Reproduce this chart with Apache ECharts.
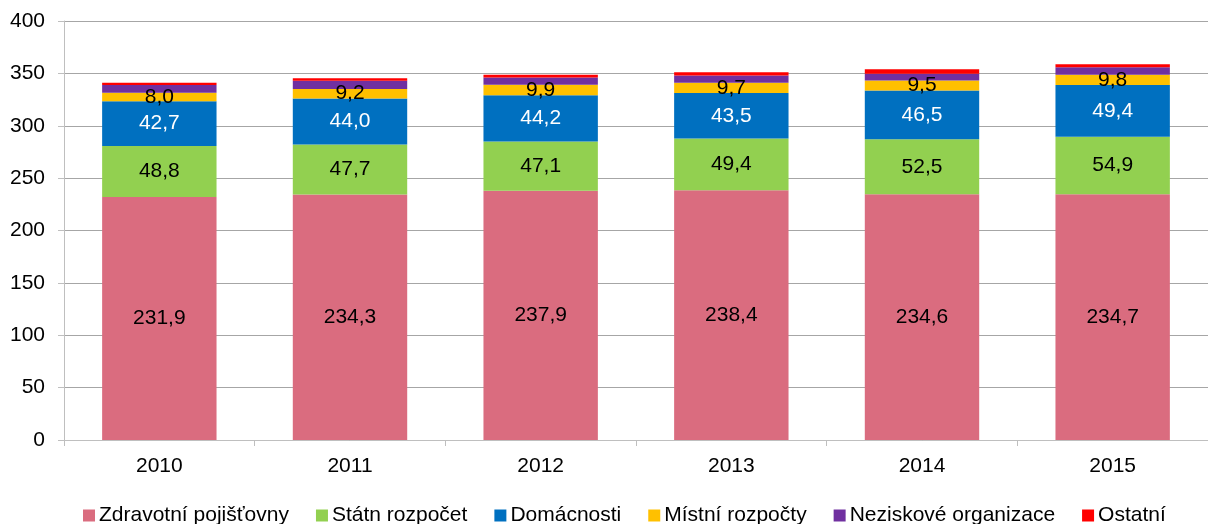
<!DOCTYPE html>
<html>
<head>
<meta charset="utf-8">
<script src="https://cdn.jsdelivr.net/npm/echarts@6/dist/echarts.min.js"></script>
<style>
  html, body { margin: 0; padding: 0; background: #fff; }
  #chart { width: 1208px; height: 524px; }
</style>
</head>
<body>
<div id="chart"></div>
<script>
var years = ['2010', '2011', '2012', '2013', '2014', '2015'];
var seriesNames = ['Zdravotní pojišťovny', 'Státn rozpočet', 'Domácnosti', 'Místní rozpočty', 'Neziskové organizace', 'Ostatní'];
var pojistovny = [231.9, 234.3, 237.9, 238.4, 234.6, 234.7];
var statni = [48.8, 47.7, 47.1, 49.4, 52.5, 54.9];
var domacnosti = [42.7, 44.0, 44.2, 43.5, 46.5, 49.4];
var mistni = [8.0, 9.2, 9.9, 9.7, 9.5, 9.8];
var neziskove = [7.5, 7.8, 7.0, 7.0, 6.5, 7.0];
var ostatni = [2.2, 2.4, 2.5, 3.0, 4.4, 3.0];

var colors = ['#DA6C7F', '#92D050', '#0070C0', '#FFC000', '#7030A0', '#FF0000'];
var labelColors = ['#000', '#000', '#fff', '#000', null, null];
var allData = [pojistovny, statni, domacnosti, mistni, neziskove, ostatni];

var series = allData.map(function (d, i) {
    return {
        name: seriesNames[i],
        type: 'bar',
        stack: 'total',
        barWidth: '60%',
        data: d,
        itemStyle: { color: colors[i] },
        label: {
            show: labelColors[i] !== null,
            position: 'inside',
            color: labelColors[i] || '#000',
            fontSize: 21,
            fontFamily: 'Liberation Sans',
            formatter: function (p) { return p.value.toFixed(1).replace('.', ','); }
        }
    };
});

var myChart = echarts.init(document.getElementById('chart'));
myChart.setOption({
    animation: false,
    textStyle: { fontFamily: 'Liberation Sans' },
    grid: { left: 64, right: -14, top: 21, bottom: 84 },
    legend: {
        top: 505,
        left: 83,
        padding: 0,
        itemWidth: 12,
        itemHeight: 12,
        itemGap: 27,
        icon: 'rect',
        textStyle: { fontSize: 21, color: '#000', fontFamily: 'Liberation Sans', padding: [0, 0, 0, -1] },
        data: seriesNames
    },
    xAxis: {
        type: 'category',
        data: years,
        axisLine: { lineStyle: { color: '#BFBFBF' } },
        axisTick: { show: true, length: 6, lineStyle: { color: '#BFBFBF' } },
        axisLabel: { fontSize: 21, color: '#000', margin: 16 }
    },
    yAxis: {
        type: 'value',
        min: 0,
        max: 400,
        interval: 50,
        axisLine: { show: true, lineStyle: { color: '#BFBFBF' } },
        axisTick: { show: true, length: 6, lineStyle: { color: '#BFBFBF' } },
        splitLine: { lineStyle: { color: '#A6A6A6' } },
        axisLabel: { fontSize: 21, color: '#000', margin: 19 }
    },
    series: series
});
</script>
</body>
</html>
